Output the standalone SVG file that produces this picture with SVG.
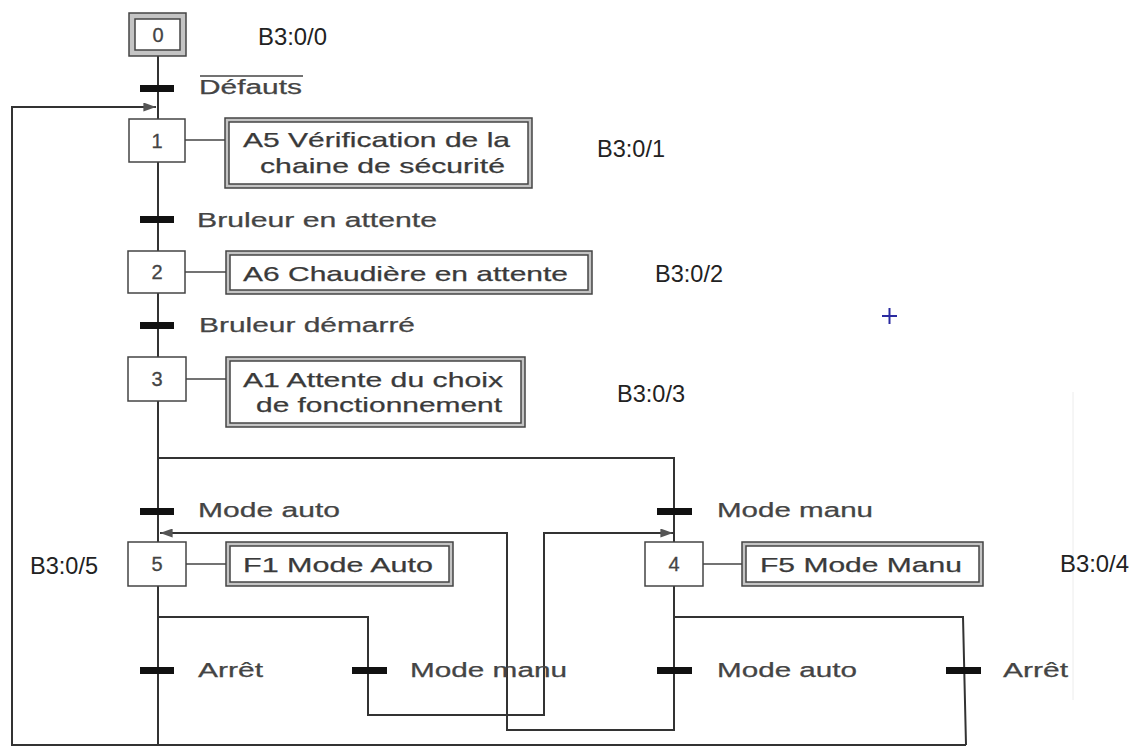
<svg xmlns="http://www.w3.org/2000/svg" width="1136" height="747" viewBox="0 0 1136 747">
<defs>
<style>
.ln{fill:none;stroke:#333;stroke-width:2}
.lt{fill:none;stroke:#444;stroke-width:1.5}
.bar{fill:#111}
.step{fill:#fff;stroke:#444;stroke-width:1.5}
.outer{fill:#c4c4c4;stroke:#444;stroke-width:1.5}
.inner{fill:#fff;stroke:#444;stroke-width:1.5}
.num{font-family:"Liberation Sans",Arial,sans-serif;font-size:20px;fill:#444;text-anchor:middle;stroke:#444;stroke-width:0.3}
.lbl{font-family:"Liberation Sans",Arial,sans-serif;font-size:20px;fill:#444;stroke:#444;stroke-width:0.25}
.act{font-family:"Liberation Sans",Arial,sans-serif;font-size:21px;fill:#3a3a3a;stroke:#3a3a3a;stroke-width:0.25}
.addr{font-family:"Liberation Sans",Arial,sans-serif;font-size:24px;fill:#222}
</style>
<marker id="ah" viewBox="0 0 14 10" refX="14" refY="5" markerWidth="13" markerHeight="9" markerUnits="userSpaceOnUse" orient="auto">
<path d="M0,0 L14,5 L0,10 Z" fill="#555"/>
</marker>
</defs>
<rect width="1136" height="747" fill="#fff"/>
<line x1="1073" y1="392" x2="1073" y2="700" stroke="#ececec" stroke-width="1"/>

<g id="connectors">
<line class="ln" x1="158" y1="56" x2="158" y2="119"/>
<line class="ln" x1="158" y1="162" x2="158" y2="251"/>
<line class="ln" x1="158" y1="293" x2="158" y2="357"/>
<polyline class="ln" points="158,401 158,458 674,458 674,542"/>
<line class="ln" x1="158" y1="458" x2="158" y2="542"/>
<line class="ln" x1="158" y1="586" x2="158" y2="745"/>
<polyline class="ln" points="158,617 368,617 368,715 544,715 544,533 673,533" marker-end="url(#ah)"/>
<polyline class="ln" points="674,586 674,730 507,730 507,533 160,533" marker-end="url(#ah)"/>
<polyline class="ln" points="674,617 963,617 966,745"/>
<polyline class="ln" points="966,745 12,745 12,107 156,107" marker-end="url(#ah)"/>
<line class="lt" x1="185" y1="140" x2="225" y2="140"/>
<line class="lt" x1="185" y1="272" x2="226" y2="272"/>
<line class="lt" x1="186" y1="379" x2="226" y2="379"/>
<line class="lt" x1="186" y1="564" x2="226" y2="564"/>
<line class="lt" x1="703" y1="564" x2="742" y2="564"/>
</g>

<g id="transitions">
<rect class="bar" x="140" y="85" width="34" height="7"/>
<text class="lbl" x="199" y="94" textLength="103" lengthAdjust="spacingAndGlyphs">Défauts</text>
<line x1="200" y1="76" x2="303" y2="76" stroke="#444" stroke-width="1.5"/>
<rect class="bar" x="140" y="216" width="34" height="7"/>
<text class="lbl" x="197" y="227" textLength="240" lengthAdjust="spacingAndGlyphs">Bruleur en attente</text>
<rect class="bar" x="140" y="322" width="34" height="7"/>
<text class="lbl" x="199" y="332" textLength="216" lengthAdjust="spacingAndGlyphs">Bruleur démarré</text>
<rect class="bar" x="140" y="508" width="34" height="7"/>
<text class="lbl" x="198" y="517" textLength="142" lengthAdjust="spacingAndGlyphs">Mode auto</text>
<rect class="bar" x="657" y="508" width="35" height="7"/>
<text class="lbl" x="717" y="517" textLength="156" lengthAdjust="spacingAndGlyphs">Mode manu</text>
<rect class="bar" x="140" y="667" width="34" height="7"/>
<text class="lbl" x="198" y="677" textLength="65" lengthAdjust="spacingAndGlyphs">Arrêt</text>
<rect class="bar" x="352" y="667" width="35" height="7"/>
<text class="lbl" x="410" y="677" textLength="157" lengthAdjust="spacingAndGlyphs">Mode manu</text>
<rect class="bar" x="657" y="667" width="35" height="7"/>
<text class="lbl" x="717" y="677" textLength="140" lengthAdjust="spacingAndGlyphs">Mode auto</text>
<rect class="bar" x="946" y="667" width="35" height="7"/>
<text class="lbl" x="1003" y="677" textLength="65" lengthAdjust="spacingAndGlyphs">Arrêt</text>
</g>

<g id="step0">
<rect class="outer" x="129" y="13" width="57" height="43"/>
<rect class="inner" x="135" y="19" width="45" height="31"/>
<text class="num" x="158" y="42">0</text>
</g>
<g id="step1">
<rect class="step" x="129" y="119" width="56" height="43"/>
<text class="num" x="157" y="148">1</text>
</g>
<g id="action1">
<rect class="outer" x="225" y="118" width="307" height="70"/>
<rect class="inner" x="229" y="122" width="299" height="62"/>
<text class="act" x="243" y="147" textLength="267" lengthAdjust="spacingAndGlyphs">A5 Vérification de la</text>
<text class="act" x="260" y="173" textLength="245" lengthAdjust="spacingAndGlyphs">chaine de sécurité</text>
</g>
<g id="step2">
<rect class="step" x="128" y="251" width="57" height="42"/>
<text class="num" x="157" y="279">2</text>
</g>
<g id="action2">
<rect class="outer" x="226" y="251" width="366" height="43"/>
<rect class="inner" x="230" y="255" width="358" height="35"/>
<text class="act" x="243" y="281" textLength="325" lengthAdjust="spacingAndGlyphs">A6 Chaudière en attente</text>
</g>
<g id="step3">
<rect class="step" x="128" y="357" width="58" height="44"/>
<text class="num" x="157" y="386">3</text>
</g>
<g id="action3">
<rect class="outer" x="226" y="357" width="299" height="70"/>
<rect class="inner" x="230" y="361" width="291" height="62"/>
<text class="act" x="243" y="387" textLength="260" lengthAdjust="spacingAndGlyphs">A1 Attente du choix</text>
<text class="act" x="256" y="412" textLength="246" lengthAdjust="spacingAndGlyphs">de fonctionnement</text>
</g>
<g id="step5">
<rect class="step" x="128" y="542" width="58" height="44"/>
<text class="num" x="157" y="571">5</text>
</g>
<g id="action5">
<rect class="outer" x="226" y="542" width="227" height="44"/>
<rect class="inner" x="230" y="546" width="219" height="36"/>
<text class="act" x="243" y="572" textLength="190" lengthAdjust="spacingAndGlyphs">F1 Mode Auto</text>
</g>
<g id="step4">
<rect class="step" x="645" y="542" width="58" height="44"/>
<text class="num" x="674" y="571">4</text>
</g>
<g id="action4">
<rect class="outer" x="742" y="542" width="241" height="44"/>
<rect class="inner" x="746" y="546" width="233" height="36"/>
<text class="act" x="760" y="572" textLength="202" lengthAdjust="spacingAndGlyphs">F5 Mode Manu</text>
</g>

<g id="addresses">
<text class="addr" x="258" y="45" textLength="69" lengthAdjust="spacingAndGlyphs">B3:0/0</text>
<text class="addr" x="597" y="157" textLength="68" lengthAdjust="spacingAndGlyphs">B3:0/1</text>
<text class="addr" x="655" y="282" textLength="68" lengthAdjust="spacingAndGlyphs">B3:0/2</text>
<text class="addr" x="617" y="402" textLength="68" lengthAdjust="spacingAndGlyphs">B3:0/3</text>
<text class="addr" x="1060" y="572" textLength="69" lengthAdjust="spacingAndGlyphs">B3:0/4</text>
<text class="addr" x="30" y="574" textLength="68" lengthAdjust="spacingAndGlyphs">B3:0/5</text>
</g>

<g id="cursor">
<line x1="882" y1="316" x2="897" y2="316" stroke="#2a2aa0" stroke-width="2"/>
<line x1="889.5" y1="308" x2="889.5" y2="324" stroke="#2a2aa0" stroke-width="2"/>
</g>
</svg>
